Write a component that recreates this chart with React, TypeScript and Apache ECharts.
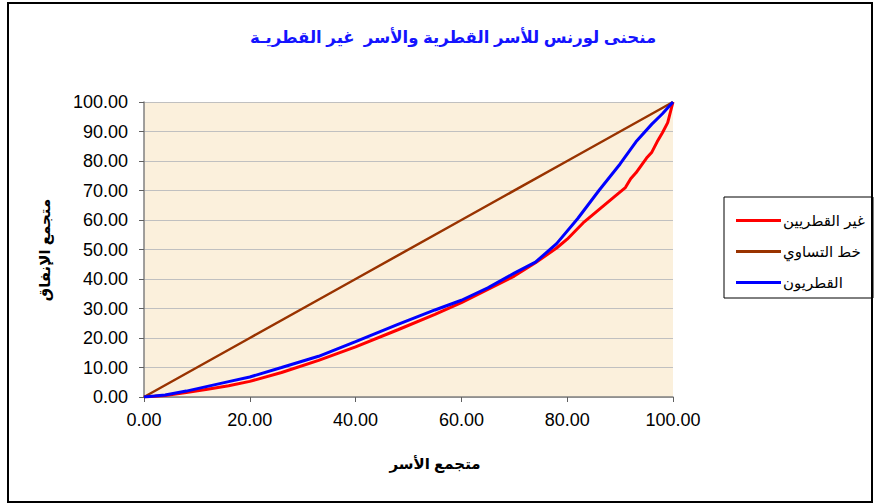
import React, { useEffect, useRef } from "react";
import * as echarts from "echarts";

const titleText = "منحنى لورنس للأسر القطرية والأسر  غير القطريـة";
const xAxisName = "متجمع الأسر";
const yAxisName = "متجمع الإنفاق";

const seriesNames = ["غير القطريين", "خط التساوي", "القطريون"];

const nonQatariX = [0, 4, 8, 12, 16, 20, 26, 33, 40, 48, 55, 60, 65, 70, 74, 78, 80, 83, 86, 89, 91, 92, 93, 95, 96, 97, 98, 99, 100];
const nonQatariY = [0, 0.5, 1.5, 2.6, 3.8, 5.3, 8.3, 12.4, 17, 22.8, 28, 32, 36.5, 41, 45.5, 50.5, 53.5, 59, 63.5, 68, 71, 74, 76, 81, 83, 86.5, 89.6, 93, 100];

const equalityX = [0, 20, 40, 60, 80, 100];
const equalityY = [0, 20, 40, 60, 80, 100];

const qatariX = [0, 2, 4, 8, 12, 16, 20, 26, 33, 40, 48, 55, 60, 65, 70, 74, 78, 82, 86, 90, 93, 96, 98, 100];
const qatariY = [0, 0.3, 0.7, 2.0, 3.6, 5.2, 6.8, 10, 13.8, 18.8, 24.6, 29.5, 32.8, 37, 42, 45.7, 52, 60.5, 70, 79, 86.5, 92.5, 96, 100];

const zip = (xs: number[], ys: number[]) => xs.map((x, i) => [x, ys[i]]);

const FONT = "'Liberation Sans', 'DejaVu Sans', Arial, sans-serif";

export default function App() {
  const ref = useRef<HTMLDivElement>(null);
  useEffect(() => {
    if (!ref.current) return;
    const chart = echarts.init(ref.current, undefined, { renderer: "svg" });
    chart.setOption({
      animation: false,
      backgroundColor: "#ffffff",
      textStyle: { fontFamily: FONT },
      title: {
        text: titleText,
        left: 448,
        textAlign: "center",
        top: 23,
        textStyle: { color: "#1414ff", fontSize: 16.5, fontWeight: "bold", fontFamily: FONT },
      },
      grid: {
        left: 144,
        right: 202,
        top: 102,
        bottom: 107,
        show: true,
        backgroundColor: "#fbf0dc",
        borderWidth: 0,
      },
      xAxis: {
        type: "value",
        min: 0,
        max: 100,
        interval: 20,
        axisLine: { show: true, lineStyle: { color: "#808080", width: 1.5 } },
        axisTick: { show: true, length: 5, lineStyle: { color: "#606060" } },
        axisLabel: {
          formatter: (v: number) => v.toFixed(2),
          color: "#000",
          fontSize: 18,
          margin: 14,
          fontFamily: FONT,
        },
        splitLine: { show: false },
      },
      yAxis: {
        type: "value",
        min: 0,
        max: 100,
        interval: 10,
        axisLine: { show: true, lineStyle: { color: "#808080", width: 1.5 } },
        axisTick: { show: true, length: 5, lineStyle: { color: "#606060" } },
        axisLabel: {
          formatter: (v: number) => v.toFixed(2),
          color: "#000",
          fontSize: 18,
          margin: 16,
          fontFamily: FONT,
        },
        splitLine: { show: true, lineStyle: { color: "#c0c0c0", width: 1 } },
      },
      legend: {
        orient: "vertical",
        left: 731,
        top: 208,
        itemGap: 16,
        itemWidth: 45,
        itemHeight: 3,
        icon: "rect",
        data: seriesNames,
        textStyle: { color: "#000", fontSize: 15, fontFamily: FONT, padding: [0, 0, 0, -3] },
      },
      graphic: [
        {
          type: "rect",
          shape: { x: 8, y: 3, width: 864, height: 499 },
          style: { fill: "none", stroke: "#000", lineWidth: 2 },
          silent: true,
          z: -1,
        },
        {
          type: "rect",
          shape: { x: 724, y: 197, width: 149, height: 101 },
          style: { fill: "none", stroke: "#000", lineWidth: 1 },
          silent: true,
        },
        {
          type: "text",
          x: 435,
          y: 463,
          style: {
            text: xAxisName,
            fill: "#000",
            font: `bold 15px ${FONT}`,
            align: "center",
            verticalAlign: "middle",
          },
        },
        {
          type: "text",
          x: 44,
          y: 250,
          rotation: Math.PI / 2,
          style: {
            text: yAxisName,
            fill: "#000",
            font: `bold 15px ${FONT}`,
            align: "center",
            verticalAlign: "middle",
          },
        },
      ],
      series: [
        {
          name: seriesNames[0],
          type: "line",
          data: zip(nonQatariX, nonQatariY),
          showSymbol: false,
          symbol: "none",
          lineStyle: { color: "#ff0000", width: 3 },
          itemStyle: { color: "#ff0000" },
          z: 2,
        },
        {
          name: seriesNames[1],
          type: "line",
          data: zip(equalityX, equalityY),
          showSymbol: false,
          symbol: "none",
          lineStyle: { color: "#993300", width: 2.5 },
          itemStyle: { color: "#993300" },
          z: 2,
        },
        {
          name: seriesNames[2],
          type: "line",
          data: zip(qatariX, qatariY),
          showSymbol: false,
          symbol: "none",
          lineStyle: { color: "#0000ff", width: 3 },
          itemStyle: { color: "#0000ff" },
          z: 3,
        },
      ],
    });
    return () => chart.dispose();
  }, []);
  return <div ref={ref} style={{ position: "absolute", left: 0, top: 0, width: 875, height: 504 }} />;
}
